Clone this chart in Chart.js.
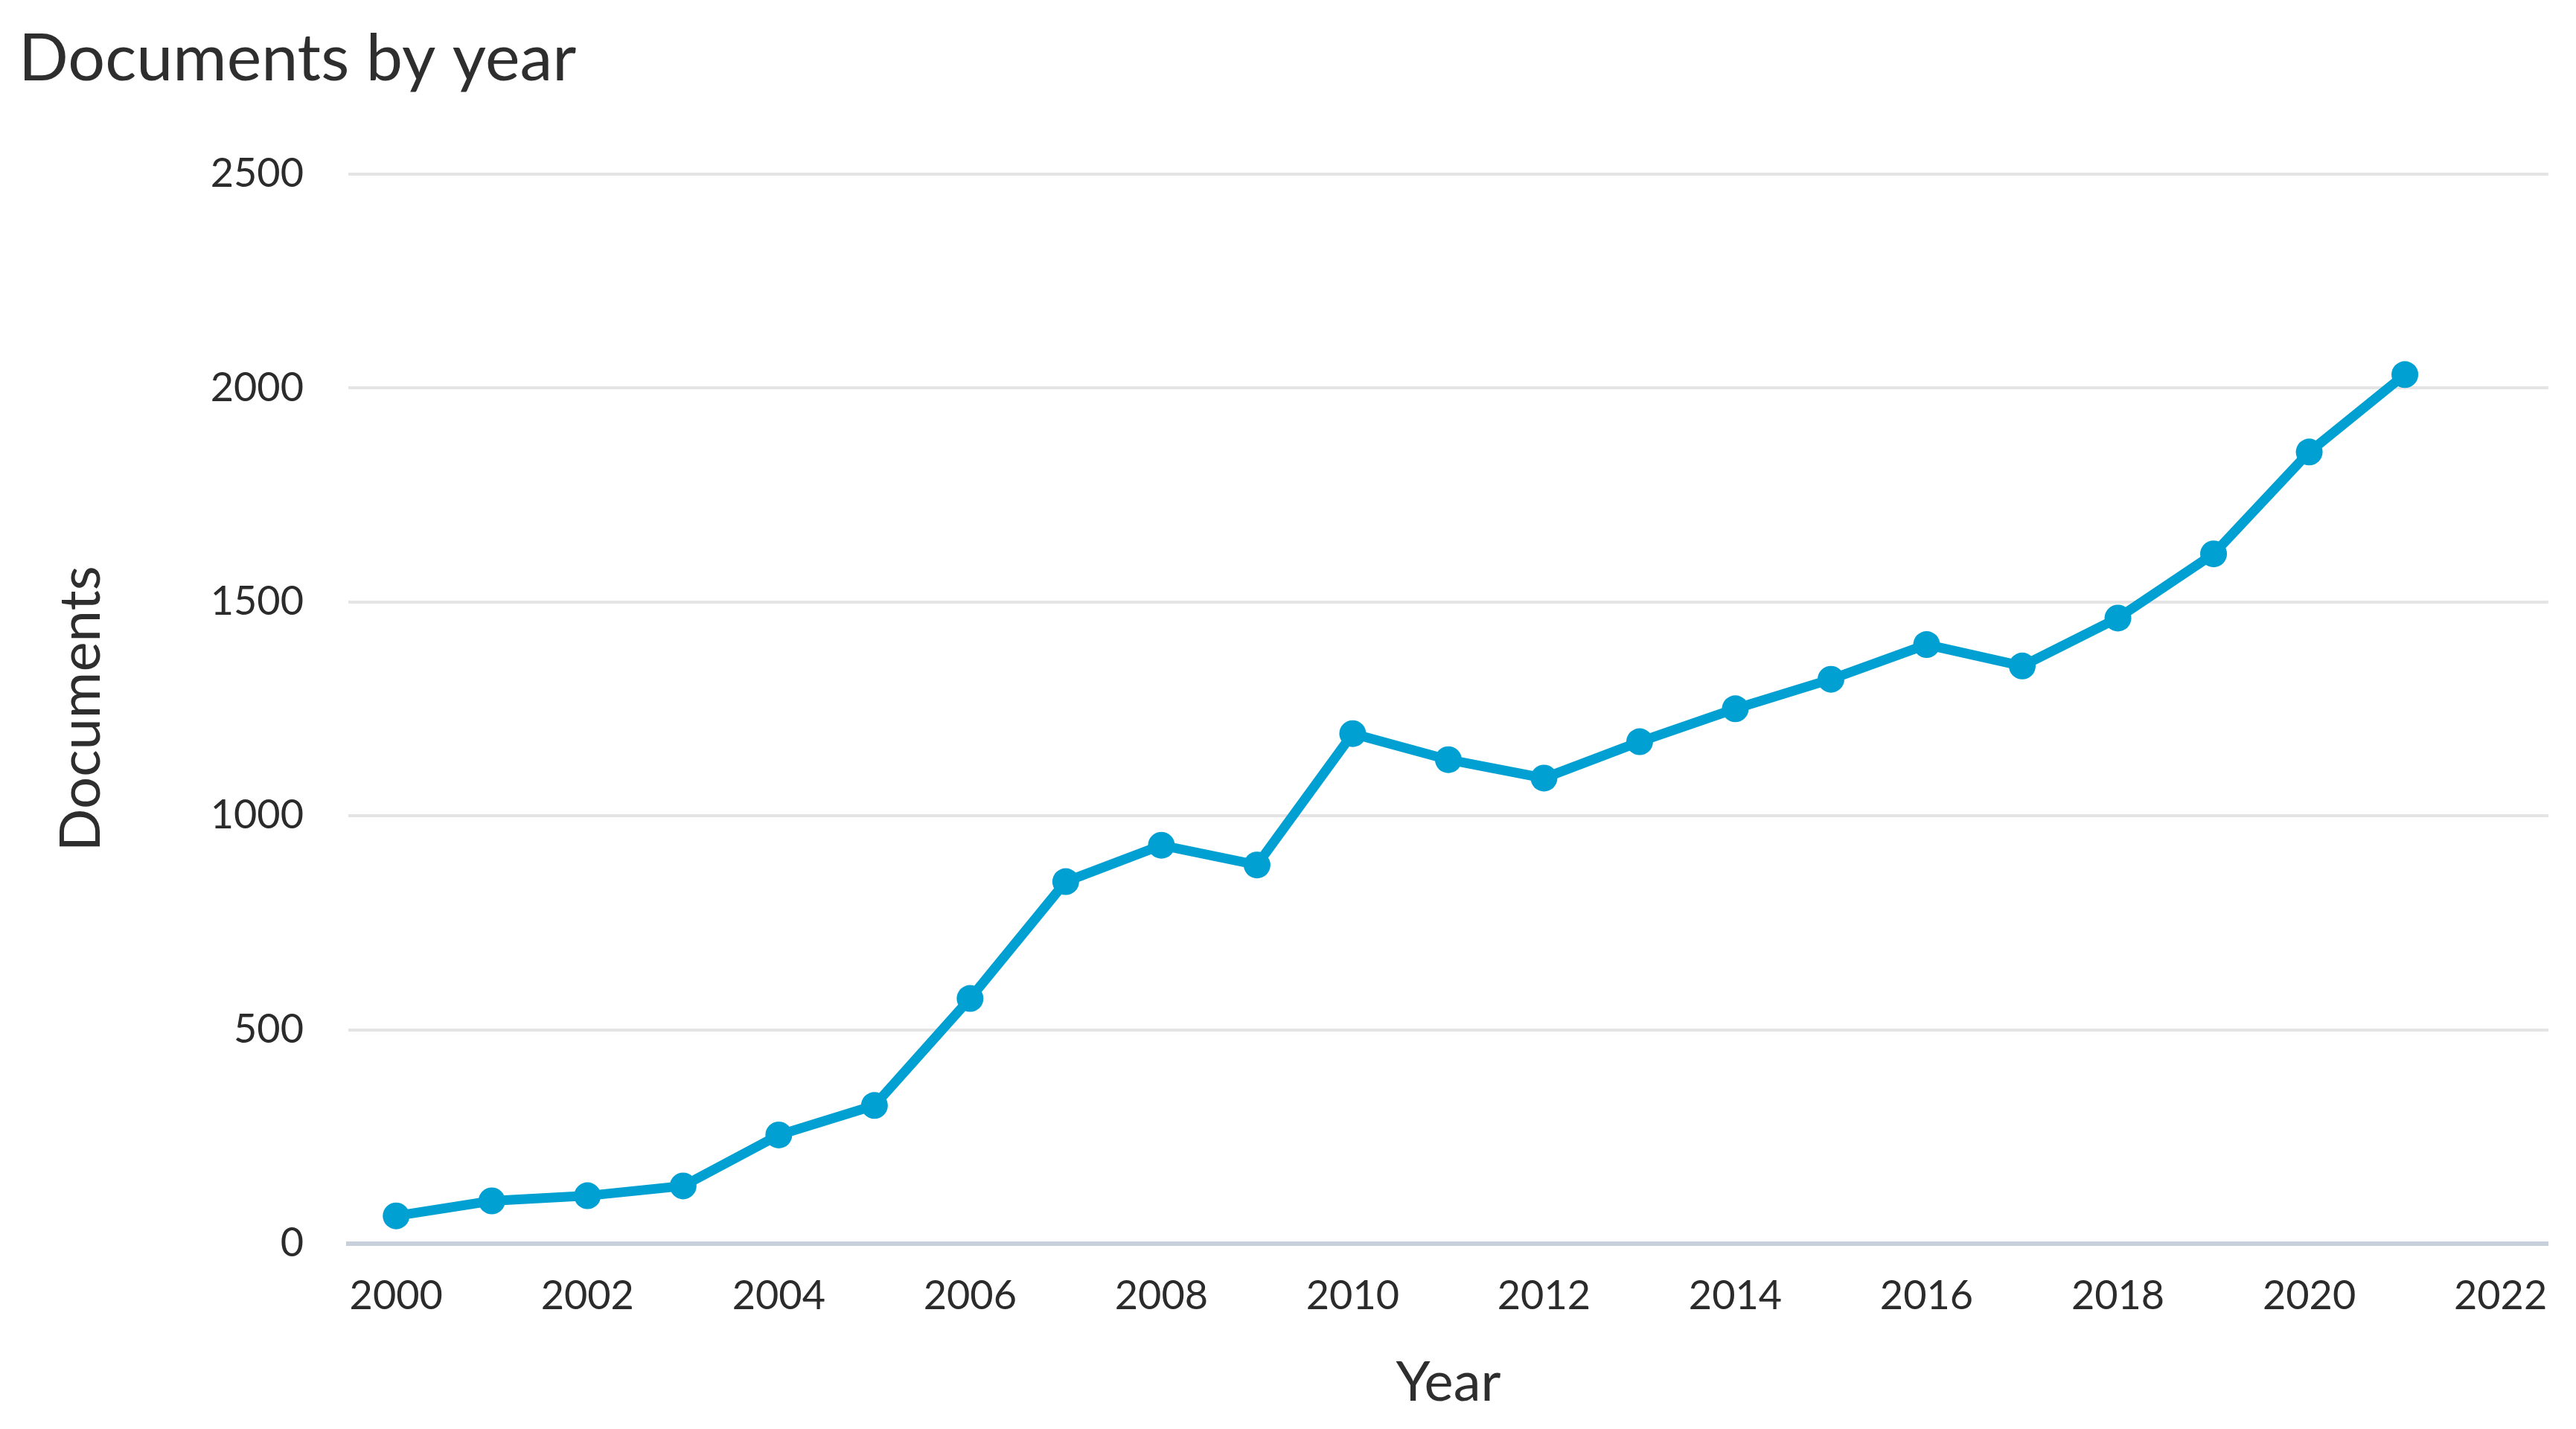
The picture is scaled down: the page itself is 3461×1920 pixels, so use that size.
<!DOCTYPE html>
<html>
<head>
<meta charset="utf-8">
<script src="https://cdn.jsdelivr.net/npm/chart.js@4/dist/chart.umd.min.js"></script>
<style>
    html, body { margin: 0; padding: 0; background: #ffffff; }
    #grafico { display: block; }
</style>
</head>
<body>
<canvas id="grafico" width="3461" height="1920"></canvas>
<script>

const anos = [
    2000, 2001, 2002, 2003, 2004, 2005, 2006, 2007, 2008, 2009, 2010,
    2011, 2012, 2013, 2014, 2015, 2016, 2017, 2018, 2019, 2020, 2021
];

const documentos = [
    65, 100, 112, 135, 254, 323, 573, 846, 931, 885, 1192,
    1131, 1088, 1173, 1250, 1319, 1400, 1350, 1462, 1612, 1850, 2031
];

const ticksAno = [
    2000, 2002, 2004, 2006, 2008, 2010,
    2012, 2014, 2016, 2018, 2020, 2022
];

const ticksDocs = [0, 500, 1000, 1500, 2000, 2500];

const corLinha = "#00a0d2";
const corTexto = "#2b2b2b";
const fonte = "Lato";

const canvas = document.getElementById("grafico");

new Chart(canvas, {

    type: "line",

    data: {
        datasets: [{
            label: "Documents",
            data: anos.map((a, i) => ({ x: a, y: documentos[i] })),
            borderColor: corLinha,
            backgroundColor: corLinha,
            borderWidth: 13,
            pointRadius: 18,
            pointBorderWidth: 0,
            pointBackgroundColor: corLinha,
            tension: 0,
            fill: false
        }]
    },

    options: {
        responsive: false,
        animation: false,
        devicePixelRatio: 1,

        layout: {
            padding: { left: 25, right: 35, top: 0, bottom: 0 }
        },

        plugins: {
            legend: { display: false },
            tooltip: { enabled: false },
            title: {
                display: true,
                text: "Documents by year",
                align: "start",
                color: "#2e2e2e",
                font: { family: fonte, size: 88, weight: "normal" },
                padding: { top: 27, bottom: 101 }
            }
        },

        scales: {

            x: {
                type: "linear",
                min: 1999.5,
                max: 2022.5,
                afterBuildTicks: scale => {
                    scale.ticks = ticksAno.map(v => ({ value: v }));
                },
                afterFit: scale => {
                    scale.height = 249;
                },
                grid: { display: false, drawTicks: false },
                border: { display: true, color: "#c8d0dc", width: 6 },
                ticks: {
                    color: corTexto,
                    font: { family: fonte, size: 54 },
                    padding: 38,
                    maxRotation: 0,
                    autoSkip: false,
                    callback: v => String(v)
                },
                title: {
                    display: true,
                    text: "Year",
                    color: "#2e2e2e",
                    font: { family: fonte, size: 74 },
                    padding: { top: 17, bottom: 17 }
                }
            },

            y: {
                min: 0,
                max: 2500,
                afterBuildTicks: scale => {
                    scale.ticks = ticksDocs.map(v => ({ value: v }));
                },
                afterFit: scale => {
                    scale.width = 468 - 25;
                },
                grid: {
                    drawTicks: false,
                    lineWidth: 4,
                    color: ctx => ctx.tick && ctx.tick.value === 0
                        ? "rgba(0,0,0,0)"
                        : "#e4e4e4"
                },
                border: { display: false },
                ticks: {
                    color: corTexto,
                    font: { family: fonte, size: 54 },
                    padding: 60,
                    callback: v => String(v)
                },
                title: {
                    display: true,
                    text: "Documents",
                    color: "#2e2e2e",
                    font: { family: fonte, size: 76 },
                    padding: { top: 39, bottom: 0 }
                }
            }
        }
    }
});
</script>
</body>
</html>
